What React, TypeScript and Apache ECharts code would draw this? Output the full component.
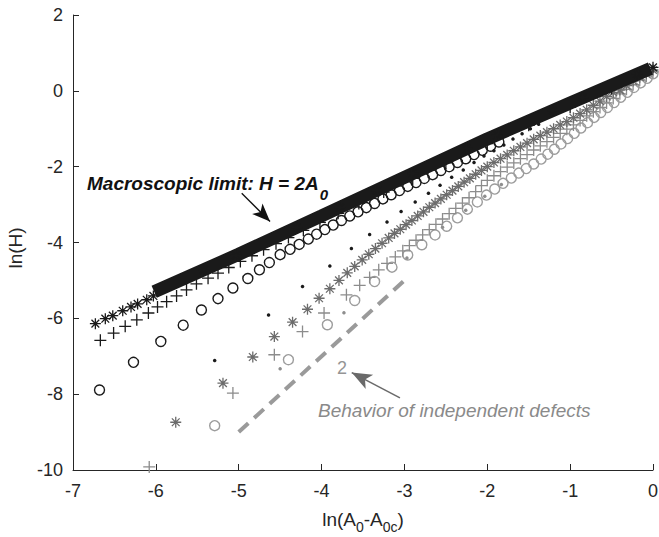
import { useEffect, useRef } from "react";
import * as echarts from "echarts";

// ---------- data ----------
const xTickRange = [-7, 0];
const yTickRange = [-10, 2];
const yAxisTitle = "ln(H)";

// thick black band (macroscopic limit)
const bandX = [-6.02, -5, -4, -3, -2, -1, -0.03];
const bandY = [-5.3, -4.31, -3.3, -2.28, -1.27, -0.32, 0.59];

// black asterisks
const blackStarX = [-6.73, -6.61, -6.52, -6.4, -6.3, -6.22, -6.11, -6.03, -5.42, -5.03, -4.3, -3.78, -3.33, -2.9, -2.25, -1.88, -1.21, -0.85, -0.19, 0];
const blackStarY = [-6.14, -6.01, -5.93, -5.8, -5.7, -5.62, -5.51, -5.41, -4.72, -4.34, -3.61, -3.08, -2.63, -2.18, -1.52, -1.16, -0.52, -0.18, 0.44, 0.62];

// black plus
const blackPlusX = [-6.67, -6.51, -6.37, -6.23, -6.09, -5.98, -5.87, -5.75, -5.63, -5.51, -5.37, -5.25, -5.12, -4.98, -4.84, -4.7, -4.55, -4.4, -4.22, -4.02, -3.8, -3.55, -3.25, -2.9, -2.5, -2.0, -1.5, -1.0, -0.5];
const blackPlusY = [-6.58, -6.39, -6.21, -6.04, -5.86, -5.7, -5.56, -5.41, -5.25, -5.09, -4.94, -4.81, -4.66, -4.5, -4.35, -4.19, -4.03, -3.87, -3.68, -3.47, -3.23, -2.97, -2.67, -2.31, -1.9, -1.39, -0.91, -0.43, 0.06];

// black circles
const blackCircX = [-6.68, -6.27, -5.94, -5.67, -5.45, -5.25, -5.07, -4.89, -4.75, -4.63, -4.5, -4.38, -4.27, -4.16, -4.06, -3.96, -3.86, -3.76, -3.66, -3.56, -3.46, -3.36, -3.26, -3.16, -3.06, -2.96, -2.86, -2.76, -2.66, -2.56, -2.46, -2.36, -2.26, -2.16, -2.06, -1.96, -1.86];
const blackCircY = [-7.89, -7.16, -6.61, -6.18, -5.78, -5.48, -5.2, -4.95, -4.72, -4.53, -4.32, -4.18, -4.05, -3.91, -3.78, -3.66, -3.54, -3.42, -3.3, -3.19, -3.08, -2.97, -2.85, -2.74, -2.63, -2.52, -2.42, -2.31, -2.21, -2.1, -2.0, -1.89, -1.79, -1.68, -1.57, -1.46, -1.35];

// black dots
const blackDotX = [-5.29, -4.64, -4.23, -3.9, -3.64, -3.42, -3.21, -3.04, -2.87, -2.71, -2.57, -2.43, -2.29, -2.16, -2.04, -1.92, -1.8, -1.69, -1.58, -1.48, -1.38];
const blackDotY = [-7.11, -5.91, -5.16, -4.62, -4.16, -3.79, -3.46, -3.18, -2.93, -2.7, -2.49, -2.28, -2.09, -1.89, -1.72, -1.58, -1.43, -1.27, -1.13, -1.0, -0.88];

// dark grey asterisks
const greyStarX = [-5.76, -5.19, -4.83, -4.57, -4.35, -4.17, -4.03, -3.9, -3.79, -3.69, -3.6, -3.51, -3.43, -3.35, -3.27, -3.19, -3.12, -3.05, -2.98, -2.91, -2.84, -2.77, -2.7, -2.63, -2.56, -2.49, -2.42, -2.35, -2.28, -2.21, -2.14, -2.07, -2.0, -1.92, -1.84, -1.76, -1.68, -1.6, -1.52, -1.44, -1.36, -1.28, -1.2, -1.12, -1.04, -0.96, -0.88, -0.8, -0.72, -0.64, -0.56, -0.48, -0.4, -0.32, -0.24, -0.16, -0.08, 0];
const greyStarY = [-8.74, -7.71, -7.02, -6.48, -6.1, -5.76, -5.47, -5.22, -5.0, -4.8, -4.63, -4.46, -4.31, -4.16, -4.02, -3.88, -3.76, -3.65, -3.53, -3.42, -3.3, -3.19, -3.07, -2.96, -2.85, -2.74, -2.63, -2.52, -2.41, -2.31, -2.2, -2.1, -2.0, -1.89, -1.79, -1.69, -1.58, -1.48, -1.38, -1.28, -1.18, -1.09, -1.0, -0.9, -0.81, -0.71, -0.6, -0.5, -0.38, -0.27, -0.15, -0.04, 0.02, 0.14, 0.26, 0.36, 0.45, 0.55];

// grey plus
const greyPlusX = [-6.08, -5.07, -4.57, -4.23, -3.97, -3.7, -3.54, -3.42, -3.31, -3.21, -3.11, -3.02, -2.94, -2.86, -2.78, -2.7, -2.62, -2.54, -2.46, -2.38, -2.3, -2.22, -2.14, -2.07, -2.0, -1.92, -1.84, -1.76, -1.68, -1.6, -1.52, -1.44, -1.36, -1.28, -1.2, -1.12, -1.04, -0.96, -0.88, -0.8, -0.72, -0.64, -0.56, -0.48, -0.4, -0.32, -0.24, -0.16, -0.08, 0];
const greyPlusY = [-9.92, -7.97, -6.96, -6.35, -5.86, -5.38, -5.13, -4.92, -4.72, -4.55, -4.38, -4.22, -4.08, -3.94, -3.8, -3.66, -3.52, -3.38, -3.24, -3.1, -2.96, -2.82, -2.66, -2.5, -2.36, -2.24, -2.13, -2.01, -1.9, -1.79, -1.68, -1.56, -1.45, -1.34, -1.23, -1.12, -1.01, -0.9, -0.78, -0.66, -0.55, -0.44, -0.32, -0.2, -0.08, 0.04, 0.16, 0.28, 0.39, 0.5];

// grey circles
const greyCircX = [-5.29, -4.4, -3.93, -3.6, -3.36, -3.15, -2.96, -2.79, -2.63, -2.49, -2.36, -2.24, -2.12, -2.01, -1.91, -1.81, -1.71, -1.62, -1.53, -1.44, -1.35, -1.27, -1.19, -1.11, -1.03, -0.95, -0.87, -0.79, -0.71, -0.63, -0.55, -0.47, -0.39, -0.31, -0.23, -0.15, -0.07, 0];
const greyCircY = [-8.83, -7.09, -6.17, -5.53, -5.03, -4.65, -4.33, -4.06, -3.8, -3.57, -3.35, -3.12, -2.93, -2.75, -2.59, -2.44, -2.3, -2.17, -2.05, -1.93, -1.8, -1.67, -1.54, -1.4, -1.26, -1.12, -0.98, -0.84, -0.7, -0.57, -0.44, -0.31, -0.17, -0.04, 0.09, 0.21, 0.33, 0.45];

// grey dots
const greyDotX = [-4.5, -3.73, -2.97, -2.54, -2.26, -2.03, -1.83];
const greyDotY = [-7.33, -5.85, -4.41, -3.6, -3.15, -2.78, -2.47];

// slope-2 reference (dashed)
const refX = [-5, -3];
const refY = [-9, -5];

// annotation arrows [tailX, tailY, headX, headY]
const macroArrow = [-4.964, -2.7, -4.622, -3.447];
const slopeArrow = [-3.054, -8.1, -3.636, -7.43];

// ---------- styles ----------
const FONT = "'Liberation Sans', Arial, Helvetica, sans-serif";
const AXIS = "#262626";
const BLACK = "#1a1a1a";
const ASTERISK = "path://M0,-10L0,10M-10,0L10,0M-7.07,-7.07L7.07,7.07M-7.07,7.07L7.07,-7.07";
const PLUS = "path://M0,-10L0,10M-10,0L10,0";

const pairs = (xs: number[], ys: number[]) => xs.map((x, i) => [x, ys[i]]);

function scatter(xs: number[], ys: number[], symbol: string, size: number, color: string, bw: number, filled: boolean, z: number) {
  return {
    type: "scatter",
    data: pairs(xs, ys),
    symbol,
    symbolSize: size,
    silent: true,
    z,
    itemStyle: {
      color: filled ? color : "rgba(0,0,0,0)",
      borderColor: color,
      borderWidth: bw,
      opacity: 1,
    },
  };
}

function arrowSeries(a: number[], color: string, width: number, head: number[], z: number) {
  return {
    type: "line",
    data: [],
    silent: true,
    z,
    markLine: {
      silent: true,
      animation: false,
      symbol: ["none", "arrow"],
      symbolSize: head,
      label: { show: false },
      lineStyle: { color, width, type: "solid" },
      emphasis: { disabled: true },
      data: [[{ coord: [a[0], a[1]] }, { coord: [a[2], a[3]] }]],
    },
  };
}

export default function App() {
  const ref = useRef<HTMLDivElement>(null);
  useEffect(() => {
    if (!ref.current) return;
    const chart = echarts.init(ref.current, undefined, { renderer: "svg" });
    chart.setOption({
      animation: false,
      backgroundColor: "#ffffff",
      textStyle: { fontFamily: FONT },
      grid: { left: 73, right: 6, top: 15, bottom: 67, containLabel: false, outerBoundsMode: "none" },
      xAxis: {
        type: "value",
        min: xTickRange[0],
        max: xTickRange[1],
        interval: 1,
        splitLine: { show: false },
        axisLine: { show: true, onZero: false, lineStyle: { color: AXIS, width: 1 } },
        axisTick: { show: true, inside: true, length: 6, lineStyle: { color: AXIS } },
        axisLabel: { color: AXIS, fontSize: 18, margin: 12, fontFamily: FONT },
        name: "{a|ln(A}{s|0}{a|-A}{s|0c}{a|)}",
        nameLocation: "middle",
        nameGap: 35,
        nameTextStyle: {
          fontFamily: FONT,
          rich: {
            a: { fontSize: 19, color: AXIS, fontFamily: FONT },
            s: { fontSize: 14, color: AXIS, fontFamily: FONT, padding: [15, 0, 0, 0] },
          },
        },
      },
      yAxis: {
        type: "value",
        min: yTickRange[0],
        max: yTickRange[1],
        interval: 2,
        splitLine: { show: false },
        axisLine: { show: true, onZero: false, lineStyle: { color: AXIS, width: 1 } },
        axisTick: { show: true, inside: true, length: 6, lineStyle: { color: AXIS } },
        axisLabel: { color: AXIS, fontSize: 18, margin: 10, fontFamily: FONT },
      },
      series: [
        {
          type: "line",
          data: pairs(refX, refY),
          symbol: "none",
          silent: true,
          z: 2,
          lineStyle: { color: "#9a9a9a", width: 4, type: [13, 8] },
        },
        scatter(greyCircX, greyCircY, "circle", 10, "#9c9c9c", 1.4, false, 3),
        scatter(greyDotX, greyDotY, "circle", 3.5, "#8e8e8e", 0, true, 3),
        scatter(greyPlusX, greyPlusY, PLUS, 12, "#8c8c8c", 1.3, false, 4),
        scatter(greyStarX, greyStarY, ASTERISK, 11, "#6c6c6c", 1.3, false, 5),
        scatter(blackDotX, blackDotY, "circle", 3.5, BLACK, 0, true, 6),
        scatter(blackCircX, blackCircY, "circle", 10, BLACK, 1.4, false, 6),
        scatter(blackPlusX, blackPlusY, PLUS, 12, BLACK, 1.3, false, 7),
        {
          type: "line",
          data: pairs(bandX, bandY),
          symbol: "none",
          silent: true,
          z: 8,
          lineStyle: { color: BLACK, width: 13, cap: "butt" },
        },
        scatter(blackStarX, blackStarY, ASTERISK, 11, BLACK, 1.3, false, 9),
        arrowSeries(macroArrow, "#111111", 1.3, [11, 18], 10),
        arrowSeries(slopeArrow, "#6a6a6a", 1.5, [12, 20], 10),
      ],
      graphic: [
        {
          type: "text",
          x: 15,
          y: 248,
          rotation: Math.PI / 2,
          silent: true,
          z: 20,
          style: { text: yAxisTitle, fontFamily: FONT, fontSize: 19, fill: AXIS, align: "center", verticalAlign: "middle" },
        },
        {
          type: "text",
          x: 87,
          y: 183,
          silent: true,
          z: 20,
          style: {
            text: "{m|Macroscopic limit: H = 2A}{s|0}",
            verticalAlign: "middle",
            align: "left",
            rich: {
              m: { fontFamily: FONT, fontSize: 19, fontWeight: "bold", fontStyle: "italic", fill: "#111111" },
              s: { fontFamily: FONT, fontSize: 15, fontWeight: "bold", fontStyle: "italic", fill: "#111111", padding: [22, 0, 0, 1] },
            },
          },
        },
        {
          type: "text",
          x: 342,
          y: 368,
          silent: true,
          z: 20,
          style: { text: "2", fontFamily: FONT, fontSize: 18, fill: "#959595", align: "center", verticalAlign: "middle" },
        },
        {
          type: "text",
          x: 318,
          y: 410,
          silent: true,
          z: 20,
          style: {
            text: "Behavior of independent defects",
            fontFamily: FONT,
            fontSize: 19,
            fontStyle: "italic",
            fill: "#8a8a8a",
            align: "left",
            verticalAlign: "middle",
          },
        },
      ],
    });
    return () => chart.dispose();
  }, []);
  return (
    <div
      ref={ref}
      style={{ position: "absolute", left: 0, top: 0, width: 659, height: 537, background: "#fff" }}
    />
  );
}
